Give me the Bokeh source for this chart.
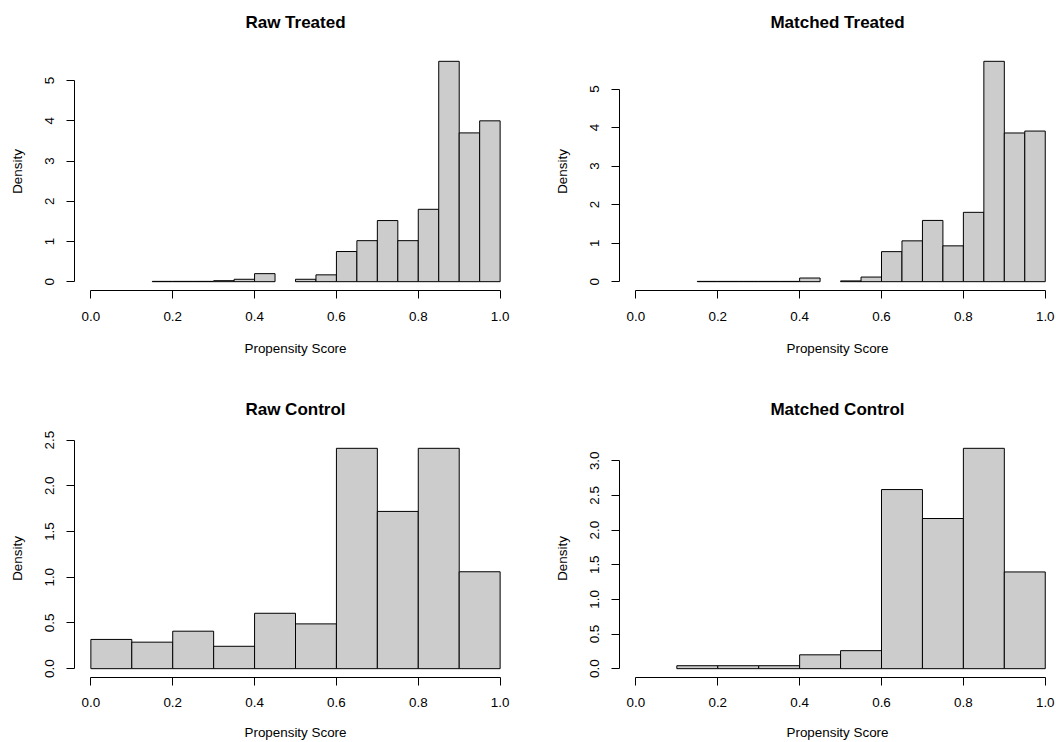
from bokeh.plotting import figure
from bokeh.layouts import column, row
from bokeh.models import Range1d, FixedTicker, PrintfTickFormatter, LinearAxis
from bokeh.embed import file_html
from bokeh.resources import INLINE

# ---------------- data ----------------
treated_breaks = [0.15, 0.20, 0.25, 0.30, 0.35, 0.40, 0.45, 0.50, 0.55,
                  0.60, 0.65, 0.70, 0.75, 0.80, 0.85, 0.90, 0.95, 1.00]
raw_treated_density = [0.008, 0.008, 0.008, 0.025, 0.06, 0.20, 0.0, 0.06, 0.17,
                       0.75, 1.02, 1.52, 1.02, 1.80, 5.48, 3.70, 4.00]
matched_treated_density = [0.008, 0.008, 0.008, 0.008, 0.008, 0.095, 0.0, 0.02, 0.12,
                           0.78, 1.06, 1.59, 0.93, 1.80, 5.72, 3.86, 3.91]

control_breaks = [0.0, 0.1, 0.2, 0.3, 0.4, 0.5, 0.6, 0.7, 0.8, 0.9, 1.0]
raw_control_density = [0.32, 0.29, 0.41, 0.245, 0.606, 0.49, 2.41, 1.72, 2.41, 1.06]
matched_control_density = [0.0, 0.043, 0.043, 0.043, 0.20, 0.26, 2.585, 2.167, 3.18, 1.396]

x_ticks = [0.0, 0.2, 0.4, 0.6, 0.8, 1.0]
treated_y_ticks = [0, 1, 2, 3, 4, 5]
raw_control_y_ticks = [0.0, 0.5, 1.0, 1.5, 2.0, 2.5]
matched_control_y_ticks = [0.0, 0.5, 1.0, 1.5, 2.0, 2.5, 3.0]

titles = ["Raw Treated", "Matched Treated", "Raw Control", "Matched Control"]
x_label = "Propensity Score"
y_label = "Density"

FONT = "Liberation Sans"
FS = "13.4px"


def panel(title, breaks, dens, yticks, yfmt, width, height, mbl, mbr, mbt, mbb, x_end,
          x_tick_standoff, x_label_standoff):
    ymax = max(dens)
    p = figure(width=width, height=height, output_backend="svg", toolbar_location=None,
               x_range=Range1d(-0.04, x_end), y_range=Range1d(-0.04 * ymax, 1.04 * ymax),
               min_border_left=mbl, min_border_right=mbr, min_border_top=mbt,
               min_border_bottom=mbb)
    p.outline_line_color = None
    p.background_fill_color = "white"
    p.border_fill_color = "white"
    p.xgrid.visible = False
    p.ygrid.visible = False

    left = [breaks[i] for i in range(len(dens)) if dens[i] > 0]
    right = [breaks[i + 1] for i in range(len(dens)) if dens[i] > 0]
    top = [d for d in dens if d > 0]
    p.quad(left=left, right=right, bottom=0, top=top,
           fill_color="#CCCCCC", line_color="black", line_width=1)

    for ax in (p.xaxis[0], p.yaxis[0]):
        ax.axis_line_color = "black"
        ax.axis_line_width = 1
        ax.major_tick_line_color = "black"
        ax.major_tick_out = 8
        ax.major_tick_in = 0
        ax.minor_tick_line_color = None
        ax.major_label_text_font = FONT
        ax.major_label_text_font_size = FS
        ax.major_label_text_color = "black"
        ax.axis_label_text_font = FONT
        ax.axis_label_text_font_size = FS
        ax.axis_label_text_font_style = "normal"
        ax.axis_label_text_color = "black"

    xa = p.xaxis[0]
    xa.ticker = FixedTicker(ticks=x_ticks)
    xa.formatter = PrintfTickFormatter(format="%.1f")
    xa.bounds = (x_ticks[0], x_ticks[-1])
    xa.axis_label = x_label
    xa.major_label_standoff = x_tick_standoff
    xa.axis_label_standoff = x_label_standoff

    ya = p.yaxis[0]
    ya.ticker = FixedTicker(ticks=yticks)
    ya.formatter = PrintfTickFormatter(format=yfmt)
    ya.bounds = (yticks[0], yticks[-1])
    ya.axis_label = y_label
    ya.major_label_orientation = "parallel"
    ya.major_label_standoff = 12
    ya.axis_label_standoff = 18

    # main title: label of a tick-less, line-less axis above the plot region
    title_axis = LinearAxis(ticker=FixedTicker(ticks=[]), major_tick_out=0, major_tick_in=0,
                            axis_line_color=None, major_tick_line_color=None,
                            minor_tick_line_color=None, major_label_standoff=0,
                            axis_label=title, axis_label_standoff=21,
                            axis_label_text_font=FONT, axis_label_text_font_size="17px",
                            axis_label_text_font_style="bold",
                            axis_label_text_color="black")
    p.add_layout(title_axis, "above")
    return p


p1 = panel(titles[0], treated_breaks, raw_treated_density, treated_y_ticks, "%d",
           528, 371, 74, 12, 52, 81, 1.04, 13, 17)
p2 = panel(titles[1], treated_breaks, matched_treated_density, treated_y_ticks, "%d",
           528, 371, 91, 1, 52, 81, 1.025, 13, 17)
p3 = panel(titles[2], control_breaks, raw_control_density, raw_control_y_ticks, "%.1f",
           528, 371, 74, 12, 68, 65, 1.04, 12, 15)
p4 = panel(titles[3], control_breaks, matched_control_density, matched_control_y_ticks, "%.1f",
           528, 371, 91, 1, 68, 65, 1.025, 12, 15)

layout = column(row(p1, p2), row(p3, p4))

open("out.html", "w").write(file_html(layout, INLINE))
